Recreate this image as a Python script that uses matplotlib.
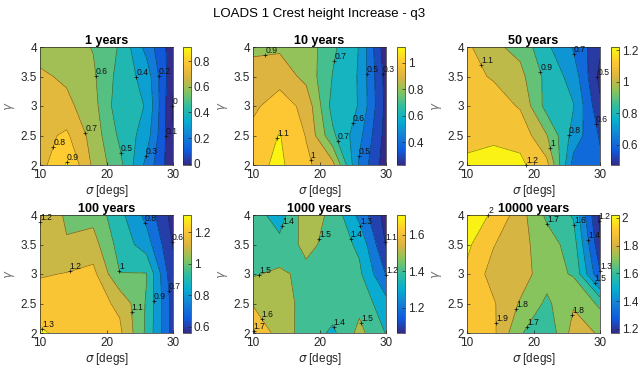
import numpy as np
import matplotlib
matplotlib.use('Agg')
import matplotlib.pyplot as plt
import matplotlib.cm as cm
from matplotlib.colors import LinearSegmentedColormap, Normalize
from matplotlib.ticker import MultipleLocator, FormatStrFormatter

plt.rcParams['font.family'] = ['Liberation Sans', 'DejaVu Sans']
plt.rcParams['mathtext.fontset'] = 'dejavusans'

# grid of the parametric study
sigma = [10, 14, 18, 22, 26, 30]        # spreading [degs]
gamma = [2, 2.5, 3, 3.5, 4]             # peak enhancement

# crest height increase, one row per gamma value
z_1 = [[0.76, 0.91, 0.68, 0.53, 0.27, 0.02],
       [0.767, 0.818, 0.658, 0.48, 0.35, 0.005],
       [0.774, 0.727, 0.637, 0.437, 0.396, -0.01],
       [0.717, 0.683, 0.616, 0.463, 0.36, 0.015],
       [0.66, 0.64, 0.595, 0.49, 0.265, 0.04]]

z_10 = [[1.07, 1.12, 1.02, 0.93, 0.48, 0.24],
        [1.03, 1.105, 0.995, 0.72, 0.53, 0.26],
        [0.98, 1.05, 0.97, 0.66, 0.595, 0.27],
        [0.93, 0.96, 0.87, 0.695, 0.59, 0.26],
        [0.885, 0.883, 0.86, 0.72, 0.595, 0.23]]

z_50 = [[1.21, 1.22, 1.22, 1.13, 0.66, 0.62],
        [1.185, 1.19, 1.17, 1.005, 0.76, 0.59],
        [1.17, 1.15, 1.09, 0.86, 0.805, 0.52],
        [1.13, 1.09, 1.03, 0.87, 0.76, 0.47],
        [1.12, 1.02, 0.97, 0.82, 0.69, 0.52]]

z_100 = [[1.31, 1.28, 1.26, 1.22, 0.98, 0.66],
         [1.26, 1.25, 1.24, 1.18, 0.99, 0.66],
         [1.19, 1.205, 1.23, 1.002, 1.005, 0.62],
         [1.17, 1.11, 1.14, 0.96, 0.85, 0.595],
         [1.21, 1.08, 1.07, 0.93, 0.77, 0.56]]

z_1000 = [[1.71, 1.55, 1.46, 1.38, 1.53, 1.395],
          [1.59, 1.54, 1.47, 1.45, 1.47, 1.335],
          [1.49, 1.52, 1.47, 1.45, 1.42, 1.195],
          [1.46, 1.43, 1.53, 1.46, 1.38, 1.095],
          [1.45, 1.35, 1.56, 1.474, 1.27, 1.06]]

z_10000 = [[1.93, 1.92, 1.71, 1.62, 1.84, 1.79],
           [1.94, 1.91, 1.79, 1.68, 1.79, 1.68],
           [1.98, 1.86, 1.85, 1.74, 1.69, 1.31],
           [2.02, 1.905, 1.83, 1.75, 1.65, 1.22],
           [2.02, 1.995, 1.84, 1.68, 1.59, 1.17]]

titles = ['1 years', '10 years', '50 years', '100 years', '1000 years', '10000 years']

# where the contour labels are put (snapped to nearest line)
lab_1 = [(14.0, 2.05), (12.3, 2.3), (16.0, 2.5), (18.2, 3.5), (22.2, 2.2),
         (25.0, 3.5), (25.8, 2.15), (27.8, 3.5), (28.4, 2.5), (30.0, 3.0)]
lab_10 = [(11.8, 3.9), (22.7, 3.75), (27.0, 3.55), (29.5, 3.55), (13.6, 2.45),
          (18.4, 2.08), (22.6, 2.4), (25.2, 2.7), (26.0, 2.15)]
lab_50 = [(12.4, 3.7), (20.4, 3.55), (25.9, 3.88), (29.9, 3.5), (29.4, 2.7),
          (25.7, 2.5), (22.7, 2.3), (20.2, 2.07)]
lab_100 = [(10.3, 3.8), (14.6, 3.0), (22.0, 3.05), (23.2, 2.35), (27.5, 2.55),
           (29.8, 2.72), (29.9, 3.55), (25.9, 3.88), (10.2, 2.05)]
lab_1000 = [(14.4, 3.82), (19.8, 3.6), (25.7, 3.8), (24.8, 3.6), (29.9, 3.55),
            (29.9, 2.88), (10.9, 3.0), (12.0, 2.3), (10.4, 2.05), (22.0, 2.1), (27.0, 2.2)]
lab_10000 = [(14.4, 3.92), (21.9, 3.84), (25.7, 3.82), (28.4, 3.58), (29.9, 3.05),
             (29.3, 2.85), (17.7, 2.4), (14.8, 2.17), (18.4, 2.15), (25.9, 2.3), (29.7, 3.9)]

data = [z_1, z_10, z_50, z_100, z_1000, z_10000]
labels = [lab_1, lab_10, lab_50, lab_100, lab_1000, lab_10000]

# parula-like map
parula = LinearSegmentedColormap.from_list(
    'parula', ['#352a87', '#0f5cdd', '#1481d6', '#08aed0', '#32bd9e',
               '#88c45c', '#dcb440', '#fec832', '#f9fb0e'])

W, H = 638.0, 370.0


def box(left, top, width, height):
    return [left / W, 1 - (top + height) / H, width / W, height / H]


def draw_panel(ax, cax, z, title, lab_pos):
    Z = np.array(z)
    X, Y = np.meshgrid(sigma, gamma)
    norm = Normalize(Z.min(), Z.max())

    lo = np.floor(Z.min() * 10) / 10
    hi = np.ceil(Z.max() * 10) / 10
    n = int(round((hi - lo) / 0.1))
    levels = np.round(lo + 0.1 * np.arange(n + 1), 2)

    # each band gets the colour of its lower level
    fills = [parula(norm(l)) for l in levels[:-1]]
    ax.contourf(X, Y, Z, levels=levels, colors=fills)
    cs = ax.contour(X, Y, Z, levels=levels, colors='k', linewidths=0.45, alpha=0.5)

    ax.clabel(cs, manual=lab_pos, inline=False, fontsize=6.2, fmt='%g')
    for t in cs.labelTexts:
        t.set_rotation(0)
        t.set_ha('left')
        t.set_va('bottom')
        t.set_color('#111111')
        t.set_clip_on(False)
        x, y = t.get_position()
        ax.plot(x, y, marker='+', color='#111111', ms=3, mew=0.5, clip_on=False)

    ax.set_xlim(10, 30)
    ax.set_ylim(2, 4)
    ax.set_xticks([10, 20, 30])
    ax.set_yticks([2, 2.5, 3, 3.5, 4])
    ax.yaxis.set_major_formatter(FormatStrFormatter('%g'))
    ax.tick_params(direction='in', length=2.5, width=0.5, labelsize=8.5,
                   colors='#262626')
    ax.tick_params(axis='x', pad=3)
    ax.tick_params(axis='y', pad=2)
    for s in ax.spines.values():
        s.set_linewidth(0.5)
        s.set_color('#262626')
    ax.set_title(title, fontsize=9, fontweight='bold', pad=2)
    ax.set_xlabel(r'$\sigma$ [degs]', fontsize=8.5, labelpad=1, color='#262626')
    ax.set_ylabel(r'$\gamma$', fontsize=8.5, labelpad=3, color='#707070')

    sm = cm.ScalarMappable(norm=norm, cmap=parula)
    cb = plt.colorbar(sm, cax=cax)
    cb.locator = MultipleLocator(0.2)
    cb.formatter = FormatStrFormatter('%g')
    cb.outline.set_linewidth(0.5)
    cb.outline.set_edgecolor('#262626')
    cb.ax.tick_params(direction='in', length=2, width=0.5, labelsize=8.5,
                      colors='#262626', pad=2)


fig = plt.figure(figsize=(6.38, 3.70), dpi=100)
fig.suptitle('LOADS 1 Crest height Increase - q3', fontsize=9.5, y=0.978)

col_left = [40, 253, 467]
cb_left = [183, 397, 611]
row_top = [47, 215]

for i in range(6):
    r, c = divmod(i, 3)
    ax = fig.add_axes(box(col_left[c], row_top[r], 133, 118))
    cax = fig.add_axes(box(cb_left[c], row_top[r], 8, 118))
    draw_panel(ax, cax, data[i], titles[i], labels[i])

fig.savefig('out.png', dpi=100)
